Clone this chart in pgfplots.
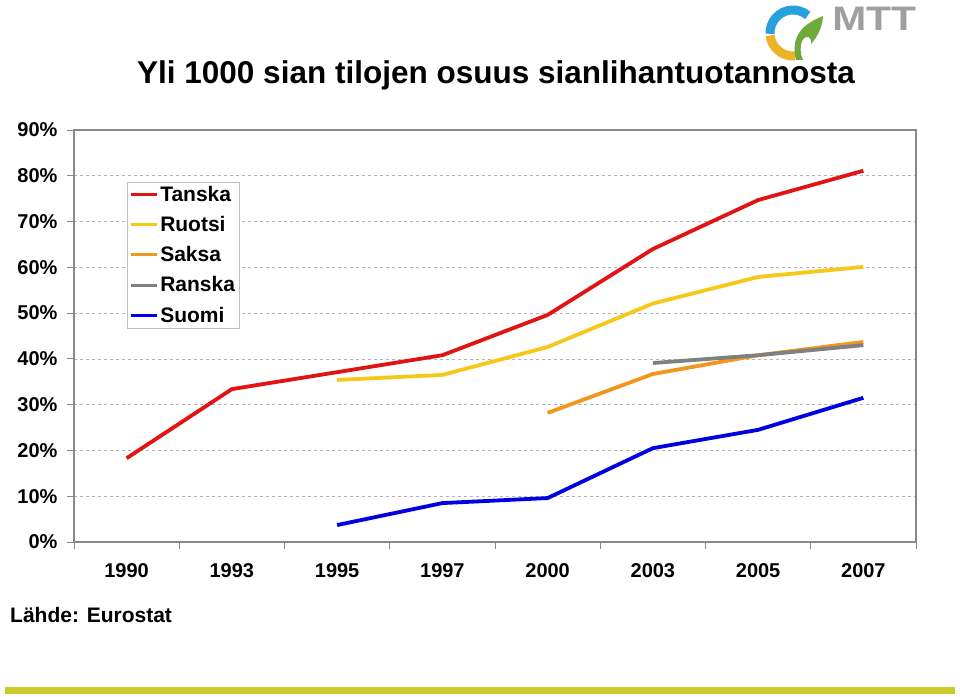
\documentclass[border=0pt]{standalone}
\usepackage{pgfplots}
\pgfplotsset{compat=1.18}
\usepackage{fontspec}
\setmainfont{Liberation Sans}
\definecolor{cTan}{RGB}{225,20,20}
\definecolor{cRuo}{RGB}{245,200,25}
\definecolor{cSak}{RGB}{242,150,30}
\definecolor{cRan}{RGB}{128,128,128}
\definecolor{cSuo}{RGB}{0,0,225}
\definecolor{cBar}{RGB}{200,204,45}
\definecolor{cAx}{RGB}{136,136,136}
\definecolor{lBlue}{RGB}{40,160,220}
\definecolor{lYel}{RGB}{235,180,40}
\definecolor{lGrn}{RGB}{110,170,60}
\begin{document}
\begin{tikzpicture}[x=1pt,y=1pt]
\path[use as bounding box] (0,0) rectangle (960,696);
\begin{axis}[
  at={(74pt,154pt)}, anchor=south west,
  scale only axis, width=842pt, height=412pt,
  xmin=-0.5, xmax=7.5, ymin=0, ymax=90,
  axis line style={cAx, line width=1.2pt},
  xtick={0,...,7},
  xticklabels={1990,1993,1995,1997,2000,2003,2005,2007},
  minor xtick={-0.5,0.5,...,7.5},
  major x tick style={draw=none},
  minor x tick style={cAx, line width=0.8pt},
  ytick={0,10,...,90},
  yticklabels={0\%,10\%,20\%,30\%,40\%,50\%,60\%,70\%,80\%,90\%},
  y tick style={cAx, line width=0.8pt},
  tick align=outside,
  major tick length=7pt, minor tick length=7pt,
  xtick pos=bottom, ytick pos=left,
  ymajorgrids,
  major grid style={dashed, color=gray!60, line width=0.6pt},
  tick label style={font=\fontsize{20}{24}\selectfont\bfseries},
  xticklabel style={yshift=-11pt},
  yticklabel style={xshift=-6pt},
  legend style={at={(0.063,0.874)}, anchor=north west, draw=gray!50,
    font=\fontsize{21}{24}\selectfont\bfseries, row sep=9.5pt,
    inner sep=2pt, cells={anchor=west}},
  legend image code/.code={\draw[#1, line width=3pt] (0pt,0pt) -- (26pt,0pt);},
  every axis plot/.append style={line width=3.8pt},
]
\addplot[cTan] coordinates {(0,18.3)(1,33.4)(2,37.1)(3,40.8)(4,49.6)(5,64.0)(6,74.7)(7,81.1)};
\addlegendentry{Tanska}
\addplot[cRuo] coordinates {(2,35.4)(3,36.5)(4,42.6)(5,52.1)(6,57.9)(7,60.1)};
\addlegendentry{Ruotsi}
\addplot[cSak] coordinates {(4,28.2)(5,36.7)(6,40.8)(7,43.7)};
\addlegendentry{Saksa}
\addplot[cRan] coordinates {(5,39.1)(6,40.8)(7,43.0)};
\addlegendentry{Ranska}
\addplot[cSuo] coordinates {(2,3.7)(3,8.5)(4,9.6)(5,20.5)(6,24.5)(7,31.5)};
\addlegendentry{Suomi}
\end{axis}
\node[font=\fontsize{31.5}{34}\selectfont\bfseries] at (496,621) {Yli 1000 sian tilojen osuus sianlihantuotannosta};
\node[font=\fontsize{21}{24}\selectfont\bfseries, anchor=west, inner sep=0pt] at (10,81) {Lähde: Eurostat};
\fill[cBar] (5,2) rectangle (955,9);
% logo
\draw[lBlue, line width=9pt] (793,663) ++(50:23) arc (50:182:23);
\draw[lYel, line width=9pt] (793,663) ++(186:23) arc (186:275:23);
\fill[lGrn] (796,636) .. controls (790,660) and (803,672) .. (823,680) .. controls (822,668) and (818,660) .. (811,652) .. controls (812,660) and (806,662) .. (802,655) .. controls (800,650) and (800,642) .. (803,636) -- cycle;
\node[anchor=west, text=gray!75, font=\fontsize{34}{36}\selectfont\bfseries, inner sep=0pt, xscale=1.2] at (832,677) {MTT};
\end{tikzpicture}
\end{document}
